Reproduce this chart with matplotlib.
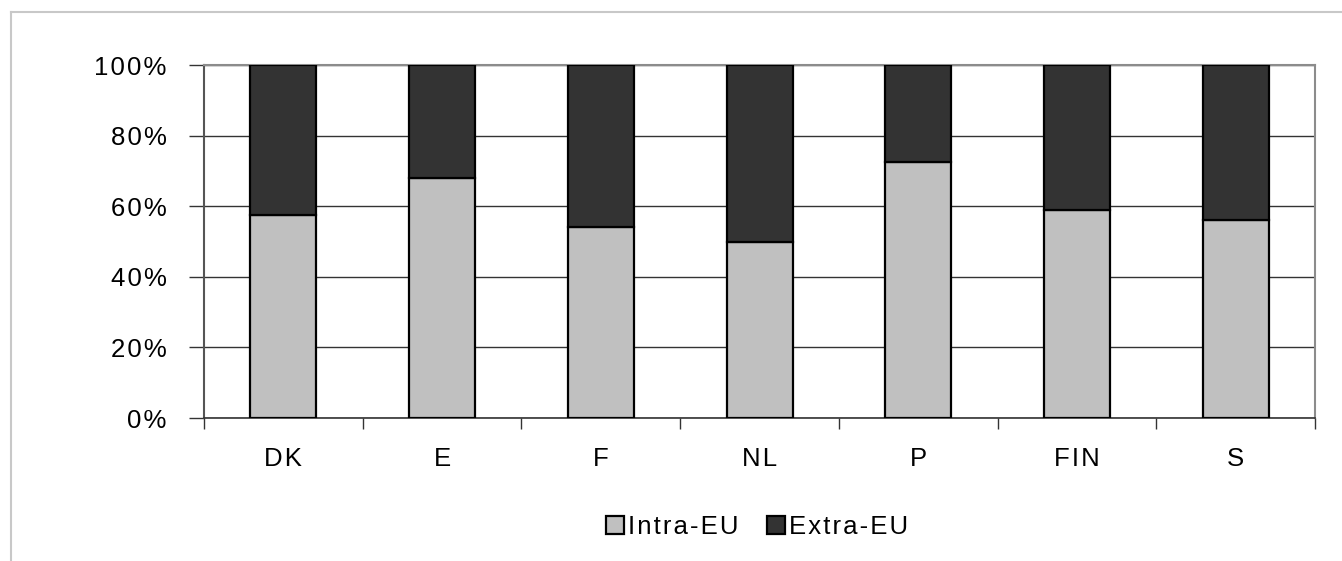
import numpy as np
import matplotlib
matplotlib.use("Agg")
import matplotlib.pyplot as plt
from matplotlib.lines import Line2D
from matplotlib.ticker import FixedLocator

# share of trade by destination, per member state (%)
countries = ["DK", "E", "F", "NL", "P", "FIN", "S"]
intra_eu = [57.5, 68.0, 54.0, 50.0, 72.5, 59.0, 56.0]
extra_eu = [100 - v for v in intra_eu]
y_ticks = [0, 20, 40, 60, 80, 100]

plt.rcParams["font.family"] = ["Liberation Sans", "DejaVu Sans"]
plt.rcParams["font.size"] = 18.5


def spaced(s):
    # wide letter spacing like the old spreadsheet export
    return "\u200a".join(s)


fig = plt.figure(figsize=(13.42, 5.61), dpi=100)
ax = fig.add_axes([0.152, 0.2549, 0.828, 0.6292])

x = np.arange(len(countries))
w = 0.415
ax.bar(x, intra_eu, w, color="#c0c0c0", edgecolor="black", linewidth=1.6,
       label=spaced("Intra-EU"), zorder=3)
ax.bar(x, extra_eu, w, bottom=intra_eu, color="#333333", edgecolor="black",
       linewidth=1.6, label=spaced("Extra-EU"), zorder=3)

ax.set_xlim(-0.5, len(countries) - 0.5)
ax.set_ylim(0, 100)

# ticks between categories, labels at the centres
ax.xaxis.set_major_locator(FixedLocator(np.arange(-0.5, len(countries), 1.0)))
ax.xaxis.set_minor_locator(FixedLocator(x))
ax.set_xticklabels([])
ax.set_xticklabels([spaced(c) for c in countries], minor=True)
ax.tick_params(axis="x", which="major", length=8, width=1, color="#333333", direction="out")
ax.tick_params(axis="x", which="minor", length=0, pad=21)

ax.set_yticks(y_ticks)
ax.set_yticklabels([spaced(f"{v}%") for v in y_ticks])
ax.tick_params(axis="y", length=11, width=1, color="#333333", pad=16)

ax.yaxis.grid(True, color="#333333", linewidth=1)
ax.set_axisbelow(True)

for side in ["top", "right"]:
    ax.spines[side].set_color("#8c8c8c")
    ax.spines[side].set_linewidth(1.5)
ax.spines["left"].set_color("#555555")
ax.spines["left"].set_linewidth(1.5)
ax.spines["bottom"].set_color("#333333")
ax.spines["bottom"].set_linewidth(1.2)

leg = fig.legend(loc="center", bbox_to_anchor=(0.564, 0.06), ncol=2, frameon=False,
                 handlelength=0.7, handleheight=0.7, handletextpad=0.15,
                 columnspacing=1.1)

# light outer frame of the chart object
fig.add_artist(Line2D([0.0082, 1.0], [0.9786, 0.9786], transform=fig.transFigure,
                      color="#c8c8c8", linewidth=1.5))
fig.add_artist(Line2D([0.0082, 0.0082], [0.0, 0.9786], transform=fig.transFigure,
                      color="#c8c8c8", linewidth=1.5))

fig.savefig("out.png", dpi=100)
